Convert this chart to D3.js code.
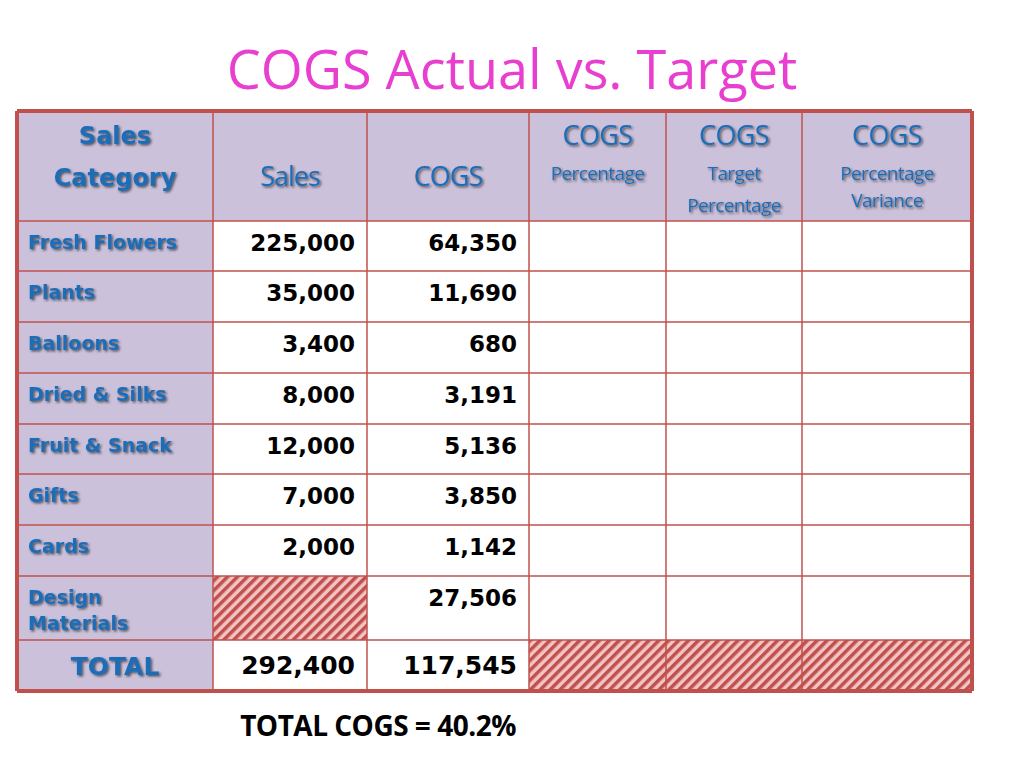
<!DOCTYPE html>
<html><head><meta charset="utf-8">
<script src="https://cdn.jsdelivr.net/npm/d3@7"></script>
<style>body{margin:0;background:#fff}</style></head>
<body><svg id="c" width="1024" height="768"></svg>
<script>
const categories = ["Fresh Flowers","Plants","Balloons","Dried & Silks","Fruit & Snack","Gifts","Cards","Design\nMaterials"];
const sales = [225000,35000,3400,8000,12000,7000,2000,null];
const cogs = [64350,11690,680,3191,5136,3850,1142,27506];
const headers = [["Sales","Category"],["Sales"],["COGS"],["COGS","Percentage"],["COGS","Target","Percentage"],["COGS","Percentage","Variance"]];
const totalSales = 292400, totalCogs = 117545;
const footer = "TOTAL COGS = 40.2%";

const svg = d3.select("#c");
const fmt = d3.format(",");
const colX = [17,213,367,529,666,802,972];
const rowY = [111,221,271,322,373,424,474,525,576,640,691];
const border = "#c0504d", lav = "#ccc1da", blue = "#1f6db8";
const defs = svg.append("defs");
const pat = defs.append("pattern").attr("id","hatch").attr("patternUnits","userSpaceOnUse")
  .attr("width",7).attr("height",7).attr("patternTransform","rotate(45)");
pat.append("rect").attr("width",7).attr("height",7).attr("fill","#f2c4c4");
pat.append("rect").attr("width",3.5).attr("height",7).attr("fill","#c0504d");
const f = defs.append("filter").attr("id","sh").attr("x","-10%").attr("y","-10%").attr("width","130%").attr("height","140%");
f.append("feDropShadow").attr("dx",1.5).attr("dy",1.5).attr("stdDeviation",0.8).attr("flood-color","#222").attr("flood-opacity",0.7);

svg.append("text").attr("x",512).attr("y",89).attr("text-anchor","middle")
  .attr("font-family","Open Sans, sans-serif").attr("font-size",54).attr("fill","#e93fd0").text("COGS Actual vs. Target");

function cell(c,r,fill){svg.append("rect").attr("x",colX[c]).attr("y",rowY[r]).attr("width",colX[c+1]-colX[c]).attr("height",rowY[r+1]-rowY[r]).attr("fill",fill);}
for(let c=0;c<6;c++) cell(c,0,lav);
for(let r=1;r<10;r++){ cell(0,r,lav); for(let c=1;c<6;c++) cell(c,r,"#fff"); }
cell(1,8,"url(#hatch)");
for(let c=3;c<6;c++) cell(c,9,"url(#hatch)");
colX.forEach((x,i)=>svg.append("line").attr("x1",x).attr("x2",x).attr("y1",rowY[0]).attr("y2",rowY[10]).attr("stroke",border).attr("stroke-width",(i==0||i==6)?4:1.5));
rowY.forEach((y,i)=>svg.append("line").attr("x1",colX[0]).attr("x2",colX[6]).attr("y1",y).attr("y2",y).attr("stroke",border).attr("stroke-width",(i==0||i==10)?4:1.5));

headers.forEach((h,c)=>{
  const cx=(colX[c]+colX[c+1])/2;
  const t=svg.append("text").attr("text-anchor","middle").attr("fill",blue).attr("filter","url(#sh)");
  if(c==0){ t.attr("font-family","DejaVu Sans").attr("font-weight","bold").attr("font-size",24);
    h.forEach((s,i)=>t.append("tspan").attr("x",cx).attr("y",144+i*42).text(s)); }
  else if(c<3){ t.attr("font-family","Open Sans").attr("font-size",27).attr("letter-spacing",-1).append("tspan").attr("x",cx).attr("y",186).text(h[0]); }
  else { t.attr("font-family","Open Sans").attr("letter-spacing",-0.6);
    h.forEach((s,i)=>t.append("tspan").attr("x",cx).attr("y",i==0?145:(c==5?180+(i-1)*27:180+(i-1)*32)).attr("font-size",i==0?27:19).text(s)); }
});
categories.forEach((cat,i)=>{
  const r=i+1;
  const t=svg.append("text").attr("fill",blue).attr("filter","url(#sh)").attr("font-family","DejaVu Sans").attr("font-weight","bold").attr("font-size",19);
  cat.split("\n").forEach((s,j)=>t.append("tspan").attr("x",28).attr("y",rowY[r]+28+j*26).text(s));
  const y=rowY[r]+30;
  if(sales[i]!=null) svg.append("text").attr("x",colX[2]-12).attr("y",y).attr("text-anchor","end").attr("font-family","DejaVu Sans").attr("font-weight","bold").attr("font-size",23).text(fmt(sales[i]));
  svg.append("text").attr("x",colX[3]-12).attr("y",y).attr("text-anchor","end").attr("font-family","DejaVu Sans").attr("font-weight","bold").attr("font-size",23).text(fmt(cogs[i]));
});
svg.append("text").attr("x",(colX[0]+colX[1])/2).attr("y",rowY[9]+35).attr("text-anchor","middle").attr("fill",blue).attr("filter","url(#sh)").attr("font-family","DejaVu Sans").attr("font-weight","bold").attr("font-size",25).text("TOTAL");
svg.append("text").attr("x",colX[2]-12).attr("y",rowY[9]+34).attr("text-anchor","end").attr("font-family","DejaVu Sans").attr("font-weight","bold").attr("font-size",25).text(fmt(totalSales));
svg.append("text").attr("x",colX[3]-12).attr("y",rowY[9]+34).attr("text-anchor","end").attr("font-family","DejaVu Sans").attr("font-weight","bold").attr("font-size",25).text(fmt(totalCogs));
svg.append("text").attr("x",378).attr("y",736).attr("text-anchor","middle").attr("font-family","Open Sans").attr("font-weight","bold").attr("font-size",28).attr("letter-spacing",-0.5).text(footer);
</script></body></html>
